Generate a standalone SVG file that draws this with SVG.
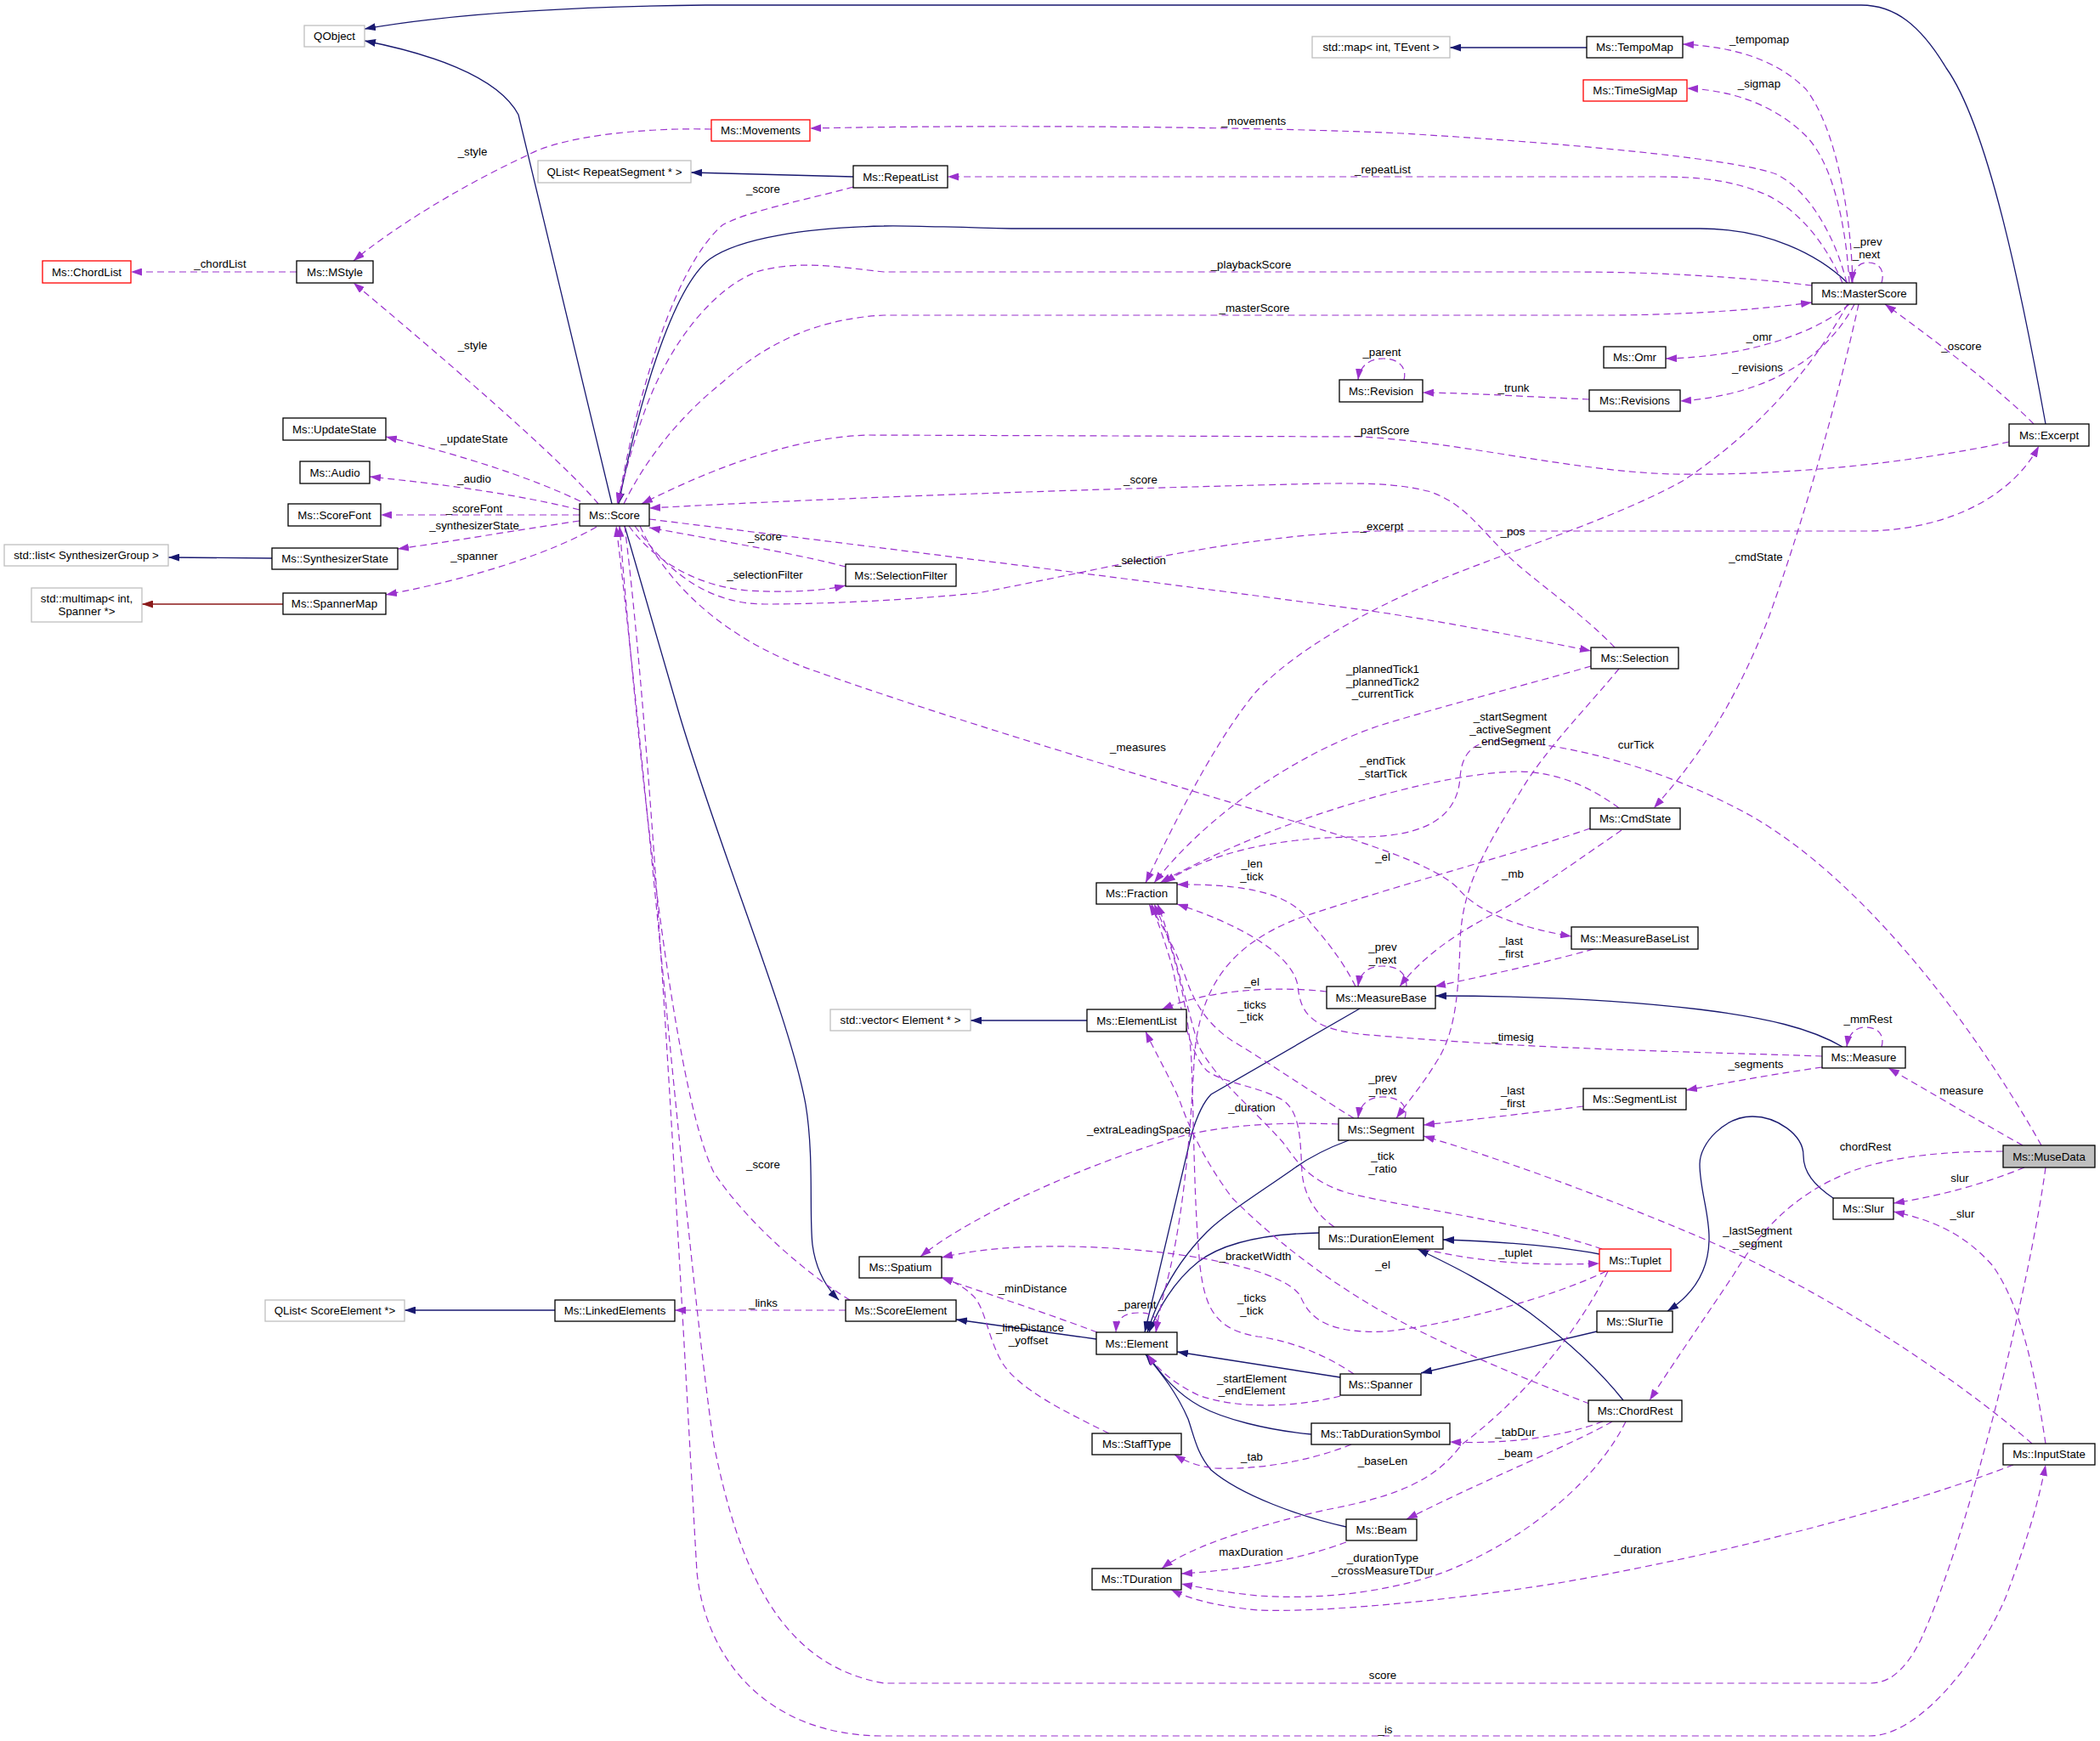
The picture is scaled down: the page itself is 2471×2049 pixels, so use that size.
<svg xmlns="http://www.w3.org/2000/svg" width="2471" height="2049" viewBox="0 0 2471 2049">
<defs>
<style>
.n{fill:#fff;stroke:#000;stroke-width:1.3}
.g{fill:#fff;stroke:#bfbfbf;stroke-width:1.3}
.r{fill:#fff;stroke:#ff0000;stroke-width:1.3}
.m{fill:#bfbfbf;stroke:#000;stroke-width:1.3}
text{font-family:"Liberation Sans",Arial,sans-serif;font-size:13.3px;fill:#000;text-anchor:middle}
.e{fill:none;stroke:#9a32cd;stroke-width:1.2;stroke-dasharray:8,5;marker-end:url(#ap)}
.i{fill:none;stroke:#191970;stroke-width:1.3;marker-end:url(#an)}
.tp{fill:none;stroke:#8b1a1a;stroke-width:1.3;marker-end:url(#ar)}
</style>
<marker id="ap" viewBox="0 0 13 9" refX="13" refY="4.5" markerWidth="13" markerHeight="9" markerUnits="userSpaceOnUse" orient="auto"><path d="M0,0 L13,4.5 L0,9 z" fill="#9a32cd"/></marker>
<marker id="an" viewBox="0 0 13 9" refX="13" refY="4.5" markerWidth="13" markerHeight="9" markerUnits="userSpaceOnUse" orient="auto"><path d="M0,0 L13,4.5 L0,9 z" fill="#191970"/></marker>
<marker id="ar" viewBox="0 0 13 9" refX="13" refY="4.5" markerWidth="13" markerHeight="9" markerUnits="userSpaceOnUse" orient="auto"><path d="M0,0 L13,4.5 L0,9 z" fill="#8b1a1a"/></marker>
</defs>
<rect width="2471" height="2049" fill="#fff"/>
<g id="edges">
<path class="i" d="M720,593 L610,135 C585,88 500,62 429,48"/>
<path class="i" d="M2407,499 C2380,350 2340,150 2290,80 C2260,30 2230,6 2190,6 L830,6 C650,8 520,18 429,34"/>
<path class="i" d="M2174,333 C2140,300 2080,269 2000,269 L1190,269 C1100,267 1060,265 1040,266 C950,268 870,280 835,305 C790,340 750,480 728,593"/>
<path class="i" d="M320,657 L198,656"/>
<path class="i" d="M1004,208 L813,203"/>
<path class="i" d="M1867,56 L1706,56"/>
<path class="i" d="M1279,1201 L1142,1201"/>
<path class="i" d="M653,1542 L476,1542"/>
<path class="i" d="M735,619 L800,843 C850,1010 930,1200 948,1300 C958,1360 952,1430 956,1465 C960,1495 972,1515 987,1530"/>
<path class="i" d="M1290,1576 L1125,1553"/>
<path class="i" d="M1600,1187 L1425,1288 C1415,1298 1408,1315 1402,1335 L1347,1568"/>
<path class="i" d="M1587,1342 C1560,1352 1540,1362 1520,1377 C1480,1405 1440,1430 1420,1450 C1390,1480 1365,1520 1350,1568"/>
<path class="i" d="M1552,1451 C1490,1452 1440,1462 1410,1485 C1385,1505 1365,1535 1352,1568"/>
<path class="i" d="M1577,1621 L1385,1591"/>
<path class="i" d="M1543,1688 C1490,1683 1440,1670 1412,1655 C1385,1640 1368,1620 1350,1594"/>
<path class="i" d="M1584,1797 C1530,1785 1460,1760 1425,1730 C1408,1710 1405,1690 1398,1670 C1385,1640 1368,1618 1348,1594"/>
<path class="i" d="M2168,1232 C2130,1210 2080,1198 2000,1188 C1900,1176 1800,1172 1689,1172"/>
<path class="i" d="M1882,1476 C1830,1466 1760,1461 1698,1459"/>
<path class="i" d="M1910,1648 C1880,1610 1840,1575 1800,1545 C1750,1510 1710,1490 1668,1470"/>
<path class="i" d="M1879,1567 L1672,1616"/>
<path class="i" d="M2157,1410 C2135,1395 2122,1380 2122,1360 C2122,1335 2090,1314 2062,1314 C2030,1314 2000,1345 2000,1370 C2000,1400 2012,1430 2011,1460 C2010,1500 1990,1525 1962,1543"/>
<path class="tp" d="M333,711 L167,711"/>

<path class="e" d="M349,320 L154,320"/><text x="259" y="315">_chordList</text>
<path class="e" d="M837,152 C760,150 660,160 620,183 C540,220 460,270 416,307"/><text x="556" y="183">_style</text>
<path class="e" d="M704,593 C660,540 520,420 416,333"/><text x="556" y="411">_style</text>
<path class="e" d="M683,590 C620,560 540,535 454,514"/><text x="558" y="521">_updateState</text>
<path class="e" d="M682,600 C600,580 520,570 435,561"/><text x="558" y="568">_audio</text>
<path class="e" d="M682,606 L448,606"/><text x="558" y="603">_scoreFont</text>
<path class="e" d="M682,613 C600,625 540,636 468,646"/><text x="558" y="623">_synthesizerState</text>
<path class="e" d="M702,620 C650,650 560,680 454,700"/><text x="558" y="659">_spanner</text>
<path class="e" d="M1004,220 C950,235 880,248 850,265 C810,300 780,380 760,450 C745,500 735,550 727,593"/><text x="898" y="227">_score</text>
<path class="e" d="M2173,333 C2160,280 2130,225 2090,205 C2050,190 1900,172 1650,157 C1500,150 1200,146 953,151"/><text x="1475" y="147">_movements</text>
<path class="e" d="M2168,333 C2150,290 2120,250 2080,230 C2040,212 2000,208 1950,208 L1115,208"/><text x="1627" y="204">_repeatList</text>
<path class="e" d="M2180,333 C2178,250 2160,150 2125,105 C2090,70 2040,55 1980,52"/><text x="2070" y="51">_tempomap</text>
<path class="e" d="M2176,333 C2172,260 2155,190 2125,160 C2090,125 2040,106 1985,104"/><text x="2070" y="103">_sigmap</text>
<path class="e" d="M2132,336 C2050,326 1950,320 1850,320 L1040,320 C990,315 940,305 890,320 C840,340 790,400 760,480 C745,520 735,560 726,593"/><text x="1472" y="316">_playbackScore</text>
<path class="e" d="M734,593 C760,540 800,490 850,450 C900,405 960,375 1040,371 L1900,371 C2000,370 2080,363 2132,356"/><text x="1476" y="367">_masterScore</text>
<path class="e" d="M2214,333 C2218,319 2212,309 2198,309 C2186,309 2180,318 2179,333"/><text x="2198" y="289">_prev</text><text x="2196" y="304">_next</text>
<path class="e" d="M2176,358 C2140,390 2060,420 1960,422"/><text x="2070" y="401">_omr</text>
<path class="e" d="M2182,358 C2150,420 2080,465 1977,472"/><text x="2068" y="437">_revisions</text>
<path class="e" d="M1870,470 C1800,467 1740,463 1674,462"/><text x="1781" y="461">_trunk</text>
<path class="e" d="M1652,447 C1656,432 1645,422 1628,422 C1612,422 1600,430 1598,447"/><text x="1626" y="419">_parent</text>
<path class="e" d="M2393,499 C2360,465 2290,410 2218,358"/><text x="2308" y="412">_oscore</text>
<path class="e" d="M2364,520 C2250,545 2100,560 1970,558 C1850,555 1720,520 1600,514 L1020,512 C940,515 850,545 755,593"/><text x="1626" y="511">_partScore</text>
<path class="e" d="M747,619 C790,680 840,711 900,711 C980,711 1080,705 1150,698 C1300,670 1450,630 1620,625 L2200,625 C2300,622 2370,580 2399,525"/><text x="1626" y="624">_excerpt</text>
<path class="e" d="M1900,762 C1860,720 1800,680 1770,650 C1740,620 1720,590 1680,578 C1640,568 1600,569 1560,569 C1300,575 1000,585 764,598"/><text x="1342" y="569">_score</text>
<path class="e" d="M764,611 C1000,640 1400,690 1620,720 C1720,735 1800,752 1872,766"/><text x="1342" y="664">_selection</text>
<path class="e" d="M740,619 C770,660 820,690 880,695 C930,698 970,695 995,689"/><text x="900" y="681">_selectionFilter</text>
<path class="e" d="M995,667 C950,655 880,642 764,621"/><text x="900" y="636">_score</text>
<path class="e" d="M753,619 C790,700 870,760 960,790 C1100,840 1300,900 1500,960 C1620,995 1690,1020 1715,1045 C1740,1075 1790,1092 1849,1102"/><text x="1339" y="884">_measures</text>
<path class="e" d="M2174,358 C2140,420 2080,500 1980,566 C1900,610 1800,640 1700,680 C1600,720 1520,770 1478,814 C1440,860 1400,930 1348,1039"/><text x="1780" y="630">_pos</text>
<path class="e" d="M2187,358 C2160,480 2120,620 2080,730 C2040,830 2000,890 1946,951"/><text x="2066" y="660">_cmdState</text>
<path class="e" d="M1872,784 C1800,805 1700,830 1620,855 C1520,890 1420,960 1358,1039"/><text x="1627" y="792">_plannedTick1</text><text x="1627" y="807">_plannedTick2</text><text x="1627" y="821">_currentTick</text>
<path class="e" d="M1905,951 C1870,925 1830,908 1785,908 C1700,910 1560,950 1460,993 C1420,1010 1390,1025 1365,1039"/><text x="1627" y="900">_endTick</text><text x="1627" y="915">_startTick</text>
<path class="e" d="M2402,1348 C2330,1220 2200,1040 2060,960 C1960,905 1850,876 1770,872 C1730,870 1720,890 1718,915 C1715,960 1680,985 1600,985 C1500,985 1420,1005 1370,1039"/><text x="1925" y="881">curTick</text>
<path class="e" d="M1905,787 C1870,830 1820,880 1790,930 C1740,1010 1720,1050 1718,1110 C1716,1180 1710,1220 1690,1250 C1675,1275 1658,1295 1643,1316"/><text x="1777" y="848">_startSegment</text><text x="1777" y="863">_activeSegment</text><text x="1777" y="877">_endSegment</text>
<path class="e" d="M1871,975 C1800,1000 1650,1040 1530,1080 C1450,1110 1410,1160 1405,1250 C1400,1350 1390,1450 1370,1520 C1365,1540 1362,1555 1360,1568"/><text x="1627" y="1013">_el</text>
<path class="e" d="M1908,977 C1860,1010 1790,1060 1755,1077 C1710,1100 1670,1130 1647,1161"/><text x="1780" y="1033">_mb</text>
<path class="e" d="M1875,1117 C1810,1135 1740,1150 1688,1161"/><text x="1778" y="1112">_last</text><text x="1778" y="1127">_first</text>
<path class="e" d="M1595,1161 C1580,1130 1555,1100 1543,1087 C1525,1060 1490,1040 1385,1041"/><text x="1473" y="1021">_len</text><text x="1473" y="1036">_tick</text>
<path class="e" d="M1655,1161 C1655,1145 1645,1137 1627,1137 C1610,1137 1600,1145 1598,1161"/><text x="1627" y="1119">_prev</text><text x="1627" y="1134">_next</text>
<path class="e" d="M1561,1167 C1500,1160 1420,1165 1367,1188"/><text x="1473" y="1160">_el</text>
<path class="e" d="M1593,1316 C1550,1290 1500,1255 1450,1225 C1420,1205 1405,1180 1395,1150 C1380,1110 1365,1085 1352,1064"/><text x="1473" y="1187">_ticks</text><text x="1473" y="1201">_tick</text>
<path class="e" d="M2144,1243 C2000,1238 1800,1235 1600,1217 C1540,1210 1530,1190 1527,1160 C1520,1120 1450,1085 1385,1064"/><text x="1780" y="1225">_timesig</text>
<path class="e" d="M2214,1232 C2218,1218 2210,1209 2195,1209 C2182,1209 2175,1218 2173,1232"/><text x="2198" y="1204">_mmRest</text>
<path class="e" d="M2144,1256 C2080,1265 2030,1275 1984,1283"/><text x="2066" y="1257">_segments</text>
<path class="e" d="M1863,1302 C1800,1310 1730,1318 1675,1324"/><text x="1780" y="1288">_last</text><text x="1780" y="1303">_first</text>
<path class="e" d="M1653,1316 C1658,1300 1645,1291 1627,1291 C1610,1291 1600,1300 1598,1316"/><text x="1627" y="1273">_prev</text><text x="1627" y="1288">_next</text>
<path class="e" d="M2380,1348 C2330,1320 2270,1285 2222,1257"/><text x="2308" y="1288">measure</text>
<path class="e" d="M1570,1444 C1550,1430 1535,1410 1532,1380 C1530,1340 1530,1310 1510,1295 C1480,1278 1440,1275 1420,1260 C1400,1240 1390,1190 1380,1140 C1370,1105 1362,1085 1355,1064"/><text x="1473" y="1308">_duration</text>
<path class="e" d="M1575,1323 C1500,1320 1430,1325 1380,1340 C1250,1380 1130,1440 1083,1479"/><text x="1340" y="1334">_extraLeadingSpace</text>
<path class="e" d="M2357,1355 C2290,1355 2230,1360 2180,1378 C2110,1405 2070,1450 2040,1500 C2000,1560 1965,1610 1941,1648"/><text x="2195" y="1354">chordRest</text>
<path class="e" d="M1885,1470 C1800,1440 1660,1422 1590,1405 C1540,1392 1525,1365 1510,1345 C1470,1300 1430,1270 1410,1230 C1395,1180 1380,1110 1362,1064"/><text x="1627" y="1365">_tick</text><text x="1627" y="1380">_ratio</text>
<path class="e" d="M2382,1374 C2330,1395 2280,1408 2228,1416"/><text x="2306" y="1391">slur</text>
<path class="e" d="M2407,1699 C2395,1620 2380,1540 2345,1490 C2310,1450 2270,1435 2228,1426"/><text x="2309" y="1433">_slur</text>
<path class="e" d="M2391,1699 C2300,1620 2150,1520 2000,1456 C1880,1405 1760,1362 1675,1337"/><text x="2068" y="1453">_lastSegment</text><text x="2068" y="1468">_segment</text>
<path class="e" d="M1675,1470 C1740,1485 1800,1490 1882,1487"/><text x="1783" y="1479">_tuplet</text>
<path class="e" d="M1890,1496 C1820,1530 1700,1560 1630,1567 C1560,1570 1540,1550 1530,1525 C1510,1495 1400,1470 1260,1467 C1200,1466 1150,1470 1108,1480"/><text x="1477" y="1483">_bracketWidth</text>
<path class="e" d="M1870,1652 C1800,1625 1700,1585 1620,1540 C1560,1505 1500,1460 1450,1410 C1420,1370 1400,1330 1388,1295 C1375,1265 1360,1240 1348,1214"/><text x="1627" y="1493">_el</text>
<path class="e" d="M1291,1568 C1230,1545 1160,1522 1108,1504"/><text x="1215" y="1521">_minDistance</text>
<path class="e" d="M1593,1617 C1560,1595 1520,1578 1480,1573 C1430,1565 1418,1540 1412,1490 C1405,1420 1405,1330 1402,1250 C1398,1180 1380,1110 1358,1064"/><text x="1473" y="1532">_ticks</text><text x="1473" y="1547">_tick</text>
<path class="e" d="M1360,1568 C1366,1555 1360,1545 1340,1545 C1322,1545 1314,1552 1313,1568"/><text x="1338" y="1540">_parent</text>
<path class="e" d="M995,1542 L794,1542"/><text x="898" y="1538">_links</text>
<path class="e" d="M1000,1530 C950,1500 880,1440 840,1380 C800,1300 760,1000 729,619"/><text x="898" y="1375">_score</text>
<path class="e" d="M1305,1687 C1250,1660 1200,1635 1180,1605 C1162,1575 1160,1540 1145,1525 C1135,1515 1122,1508 1108,1503"/><text x="1212" y="1567">_lineDistance</text><text x="1210" y="1582">_yoffset</text>
<path class="e" d="M1577,1643 C1530,1655 1460,1660 1410,1642 C1385,1630 1365,1615 1350,1594"/><text x="1473" y="1627">_startElement</text><text x="1473" y="1641">_endElement</text>
<path class="e" d="M1886,1673 C1840,1690 1780,1700 1706,1697"/><text x="1783" y="1690">_tabDur</text>
<path class="e" d="M1590,1700 C1540,1720 1480,1730 1430,1728 C1410,1726 1395,1720 1382,1712"/><text x="1473" y="1719">_tab</text>
<path class="e" d="M1892,1496 C1860,1560 1800,1640 1720,1700 C1690,1740 1650,1760 1560,1777 C1480,1795 1400,1820 1367,1846"/><text x="1627" y="1724">_baseLen</text>
<path class="e" d="M1897,1673 C1850,1700 1750,1740 1655,1788"/><text x="1783" y="1715">_beam</text>
<path class="e" d="M1584,1815 C1530,1835 1460,1848 1390,1852"/><text x="1472" y="1831">maxDuration</text>
<path class="e" d="M1913,1673 C1880,1740 1800,1810 1700,1850 C1630,1875 1550,1883 1480,1878 C1440,1874 1410,1868 1390,1864"/><text x="1627" y="1838">_durationType</text><text x="1627" y="1853">_crossMeasureTDur</text>
<path class="e" d="M2369,1724 C2250,1770 2050,1825 1840,1862 C1700,1885 1550,1898 1480,1895 C1430,1890 1400,1882 1378,1871"/><text x="1927" y="1828">_duration</text>
<path class="e" d="M2407,1374 C2390,1500 2320,1800 2260,1930 C2240,1970 2220,1981 2200,1981 L1040,1981 C920,1960 870,1850 840,1700 C810,1500 760,900 725,619"/><text x="1627" y="1976">score</text>
<path class="e" d="M735,619 C770,900 800,1500 820,1850 C830,1950 900,2043 1040,2043 L2200,2043 C2260,2043 2330,1950 2360,1880 C2390,1800 2400,1760 2407,1724"/><text x="1630" y="2040">_is</text>
</g>

<g id="QObject"><rect class="g" x="358" y="30" width="71" height="25"/><text x="393.5" y="47">QObject</text></g>
<g id="QListRepeatSegment"><rect class="g" x="633" y="189" width="180" height="26"/><text x="723" y="206.5">QList&lt; RepeatSegment * &gt;</text></g>
<g id="ChordList"><rect class="r" x="50" y="307" width="104" height="26"/><text x="102" y="324.5">Ms::ChordList</text></g>
<g id="MStyle"><rect class="n" x="349" y="307" width="90" height="26"/><text x="394" y="324.5">Ms::MStyle</text></g>
<g id="Movements"><rect class="r" x="837" y="141" width="116" height="25"/><text x="895" y="158">Ms::Movements</text></g>
<g id="RepeatList"><rect class="n" x="1004" y="195" width="111" height="26"/><text x="1059.5" y="212.5">Ms::RepeatList</text></g>
<g id="StdMap"><rect class="g" x="1544" y="43" width="162" height="25"/><text x="1625" y="60">std::map&lt; int, TEvent &gt;</text></g>
<g id="TempoMap"><rect class="n" x="1867" y="43" width="113" height="25"/><text x="1923.5" y="60">Ms::TempoMap</text></g>
<g id="TimeSigMap"><rect class="r" x="1863" y="94" width="122" height="25"/><text x="1924" y="111">Ms::TimeSigMap</text></g>
<g id="MasterScore"><rect class="n" x="2132" y="333" width="123" height="25"/><text x="2193.5" y="350">Ms::MasterScore</text></g>
<g id="Revision"><rect class="n" x="1576" y="447" width="98" height="26"/><text x="1625" y="464.5">Ms::Revision</text></g>
<g id="Omr"><rect class="n" x="1887" y="408" width="73" height="25"/><text x="1923.5" y="425">Ms::Omr</text></g>
<g id="Revisions"><rect class="n" x="1870" y="459" width="107" height="25"/><text x="1923.5" y="476">Ms::Revisions</text></g>
<g id="Excerpt"><rect class="n" x="2364" y="499" width="94" height="26"/><text x="2411" y="516.5">Ms::Excerpt</text></g>
<g id="UpdateState"><rect class="n" x="333" y="492" width="121" height="26"/><text x="393.5" y="509.5">Ms::UpdateState</text></g>
<g id="Audio"><rect class="n" x="353" y="543" width="82" height="26"/><text x="394" y="560.5">Ms::Audio</text></g>
<g id="ScoreFont"><rect class="n" x="339" y="593" width="109" height="26"/><text x="393.5" y="610.5">Ms::ScoreFont</text></g>
<g id="Score"><rect class="n" x="682" y="593" width="82" height="26"/><text x="723" y="610.5">Ms::Score</text></g>
<g id="StdList"><rect class="g" x="5" y="641" width="193" height="25"/><text x="101.5" y="658">std::list&lt; SynthesizerGroup &gt;</text></g>
<g id="SynthesizerState"><rect class="n" x="320" y="645" width="148" height="25"/><text x="394" y="662">Ms::SynthesizerState</text></g>
<g id="StdMultimap"><rect class="g" x="37" y="692" width="130" height="40"/><text x="102" y="709">std::multimap&lt; int,</text><text x="102" y="724">Spanner *&gt;</text></g>
<g id="SpannerMap"><rect class="n" x="333" y="698" width="121" height="25"/><text x="393.5" y="715">Ms::SpannerMap</text></g>
<g id="SelectionFilter"><rect class="n" x="995" y="664" width="130" height="26"/><text x="1060" y="681.5">Ms::SelectionFilter</text></g>
<g id="Selection"><rect class="n" x="1872" y="762" width="103" height="25"/><text x="1923.5" y="779">Ms::Selection</text></g>
<g id="CmdState"><rect class="n" x="1871" y="951" width="106" height="25"/><text x="1924" y="968">Ms::CmdState</text></g>
<g id="Fraction"><rect class="n" x="1290" y="1039" width="95" height="25"/><text x="1337.5" y="1056">Ms::Fraction</text></g>
<g id="MeasureBaseList"><rect class="n" x="1849" y="1091" width="149" height="26"/><text x="1923.5" y="1108.5">Ms::MeasureBaseList</text></g>
<g id="MeasureBase"><rect class="n" x="1561" y="1161" width="128" height="26"/><text x="1625" y="1178.5">Ms::MeasureBase</text></g>
<g id="StdVector"><rect class="g" x="977" y="1188" width="165" height="25"/><text x="1059.5" y="1205">std::vector&lt; Element * &gt;</text></g>
<g id="ElementList"><rect class="n" x="1279" y="1188" width="117" height="26"/><text x="1337.5" y="1205.5">Ms::ElementList</text></g>
<g id="Measure"><rect class="n" x="2144" y="1232" width="98" height="25"/><text x="2193" y="1249">Ms::Measure</text></g>
<g id="SegmentList"><rect class="n" x="1863" y="1281" width="121" height="25"/><text x="1923.5" y="1298">Ms::SegmentList</text></g>
<g id="Segment"><rect class="n" x="1575" y="1316" width="100" height="26"/><text x="1625" y="1333.5">Ms::Segment</text></g>
<g id="MuseData"><rect class="m" x="2357" y="1348" width="108" height="26"/><text x="2411" y="1365.5">Ms::MuseData</text></g>
<g id="Slur"><rect class="n" x="2157" y="1410" width="71" height="25"/><text x="2192.5" y="1427">Ms::Slur</text></g>
<g id="DurationElement"><rect class="n" x="1552" y="1444" width="146" height="26"/><text x="1625" y="1461.5">Ms::DurationElement</text></g>
<g id="Tuplet"><rect class="r" x="1882" y="1470" width="84" height="26"/><text x="1924" y="1487.5">Ms::Tuplet</text></g>
<g id="Spatium"><rect class="n" x="1011" y="1479" width="97" height="25"/><text x="1059.5" y="1496">Ms::Spatium</text></g>
<g id="QListScoreElement"><rect class="g" x="312" y="1530" width="164" height="25"/><text x="394" y="1547">QList&lt; ScoreElement *&gt;</text></g>
<g id="LinkedElements"><rect class="n" x="653" y="1530" width="141" height="25"/><text x="723.5" y="1547">Ms::LinkedElements</text></g>
<g id="ScoreElement"><rect class="n" x="995" y="1530" width="130" height="25"/><text x="1060" y="1547">Ms::ScoreElement</text></g>
<g id="SlurTie"><rect class="n" x="1879" y="1543" width="89" height="25"/><text x="1923.5" y="1560">Ms::SlurTie</text></g>
<g id="Element"><rect class="n" x="1290" y="1568" width="95" height="26"/><text x="1337.5" y="1585.5">Ms::Element</text></g>
<g id="Spanner"><rect class="n" x="1577" y="1617" width="95" height="25"/><text x="1624.5" y="1634">Ms::Spanner</text></g>
<g id="ChordRest"><rect class="n" x="1869" y="1648" width="110" height="25"/><text x="1924" y="1665">Ms::ChordRest</text></g>
<g id="TabDurationSymbol"><rect class="n" x="1543" y="1675" width="163" height="25"/><text x="1624.5" y="1692">Ms::TabDurationSymbol</text></g>
<g id="StaffType"><rect class="n" x="1285" y="1687" width="105" height="25"/><text x="1337.5" y="1704">Ms::StaffType</text></g>
<g id="InputState"><rect class="n" x="2357" y="1699" width="108" height="25"/><text x="2411" y="1716">Ms::InputState</text></g>
<g id="Beam"><rect class="n" x="1584" y="1788" width="83" height="25"/><text x="1625.5" y="1805">Ms::Beam</text></g>
<g id="TDuration"><rect class="n" x="1285" y="1846" width="105" height="25"/><text x="1337.5" y="1863">Ms::TDuration</text></g>
</svg>
